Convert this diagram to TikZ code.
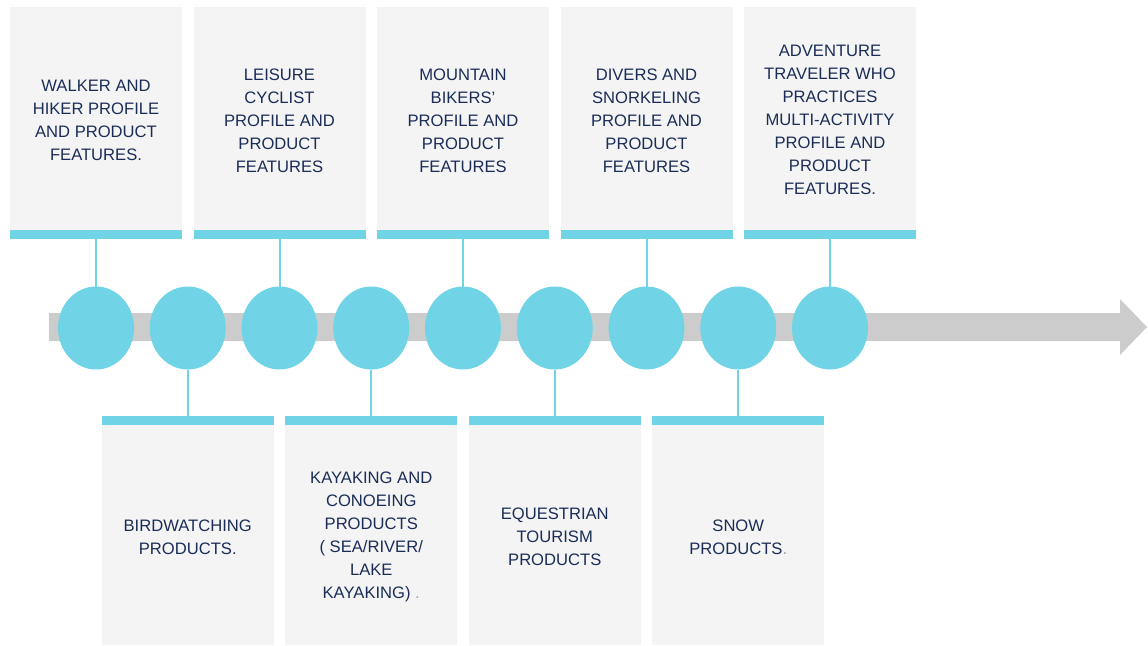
\documentclass[tikz,border=0pt]{standalone}
\usepackage{fontspec}
\setmainfont{Liberation Sans}
\usetikzlibrary{shapes.geometric}
\definecolor{boxgray}{HTML}{F4F4F4}
\definecolor{cyanc}{HTML}{70D3E6}
\definecolor{navy}{HTML}{1B2D57}
\definecolor{arrowgray}{HTML}{CCCCCC}
\definecolor{dotgray}{HTML}{A0A0A0}
\tikzset{
  gbox/.style={rectangle, fill=boxgray, minimum width=172pt, inner sep=0pt, outer sep=0pt},
  topbox/.style={gbox, minimum height=223pt},
  botbox/.style={gbox, minimum height=220pt},
  label text/.style={text=navy, font=\fontsize{16.6}{23}\selectfont, align=center, inner sep=0pt},
  cbar/.style={rectangle, fill=cyanc, minimum width=172pt, minimum height=9pt, inner sep=0pt, outer sep=0pt},
  dot/.style={ellipse, fill=cyanc, minimum width=76pt, minimum height=83pt, inner sep=0pt, outer sep=0pt},
  link/.style={draw=cyanc, line width=2pt}
}
\begin{document}
\begin{tikzpicture}[x=1pt,y=-1pt]
\useasboundingbox (0,0) rectangle (1148,645);
% arrow
\fill[arrowgray] (49,313) -- (1120,313) -- (1120,299) -- (1147,327) -- (1120,355) -- (1120,341) -- (49,341) -- cycle;
% circles
\foreach \i/\x in {1/96,2/187.75,3/279.5,4/371.25,5/463,6/554.75,7/646.5,8/738.25,9/830}
  \node[dot] (c\i) at (\x,328) {};
% top boxes
\foreach \i/\x in {1/96,2/279.5,3/463,4/646.5,5/830}
  \node[topbox] (t\i) at (\x,118.5) {};
\node[label text] (tt1) at ([yshift=-2pt]t1.center) {WALKER AND\\HIKER PROFILE\\AND PRODUCT\\FEATURES.};
\node[label text] (tt2) at ([yshift=-2pt]t2.center) {LEISURE\\CYCLIST\\PROFILE AND\\PRODUCT\\FEATURES};
\node[label text] (tt3) at ([yshift=-2pt]t3.center) {MOUNTAIN\\BIKERS'\\PROFILE AND\\PRODUCT\\FEATURES};
\node[label text] (tt4) at ([yshift=-2pt]t4.center) {DIVERS AND\\SNORKELING\\PROFILE AND\\PRODUCT\\FEATURES};
\node[label text] (tt5) at ([yshift=-1pt]t5.center) {ADVENTURE\\TRAVELER WHO\\PRACTICES\\MULTI-ACTIVITY\\PROFILE AND\\PRODUCT\\FEATURES.};
\foreach \i in {1,...,5}
  \node[cbar, anchor=north] (tb\i) at (t\i.south) {};
% bottom boxes
\foreach \i/\x in {1/187.75,2/371.25,3/554.75,4/738.25}
  \node[botbox] (d\i) at (\x,535) {};
\node[label text] (dd1) at ([yshift=-2pt]d1.center) {BIRDWATCHING\\PRODUCTS.};
\node[label text] (dd2) at ([yshift=-2pt]d2.center) {KAYAKING AND\\CONOEING\\PRODUCTS\\( SEA/RIVER/\\LAKE\\KAYAKING) \textcolor{dotgray}{.}};
\node[label text] (dd3) at ([yshift=-2pt]d3.center) {EQUESTRIAN\\TOURISM\\PRODUCTS};
\node[label text] (dd4) at ([yshift=-2pt]d4.center) {SNOW\\PRODUCTS\textcolor{dotgray}{.}};
\foreach \i in {1,...,4}
  \node[cbar, anchor=south] (db\i) at (d\i.north) {};
% connectors
\draw[link] (tb1.south) -- (c1.north);
\draw[link] (tb2.south) -- (c3.north);
\draw[link] (tb3.south) -- (c5.north);
\draw[link] (tb4.south) -- (c7.north);
\draw[link] (tb5.south) -- (c9.north);
\draw[link] (c2.south) -- (db1.north);
\draw[link] (c4.south) -- (db2.north);
\draw[link] (c6.south) -- (db3.north);
\draw[link] (c8.south) -- (db4.north);
\end{tikzpicture}
\end{document}
